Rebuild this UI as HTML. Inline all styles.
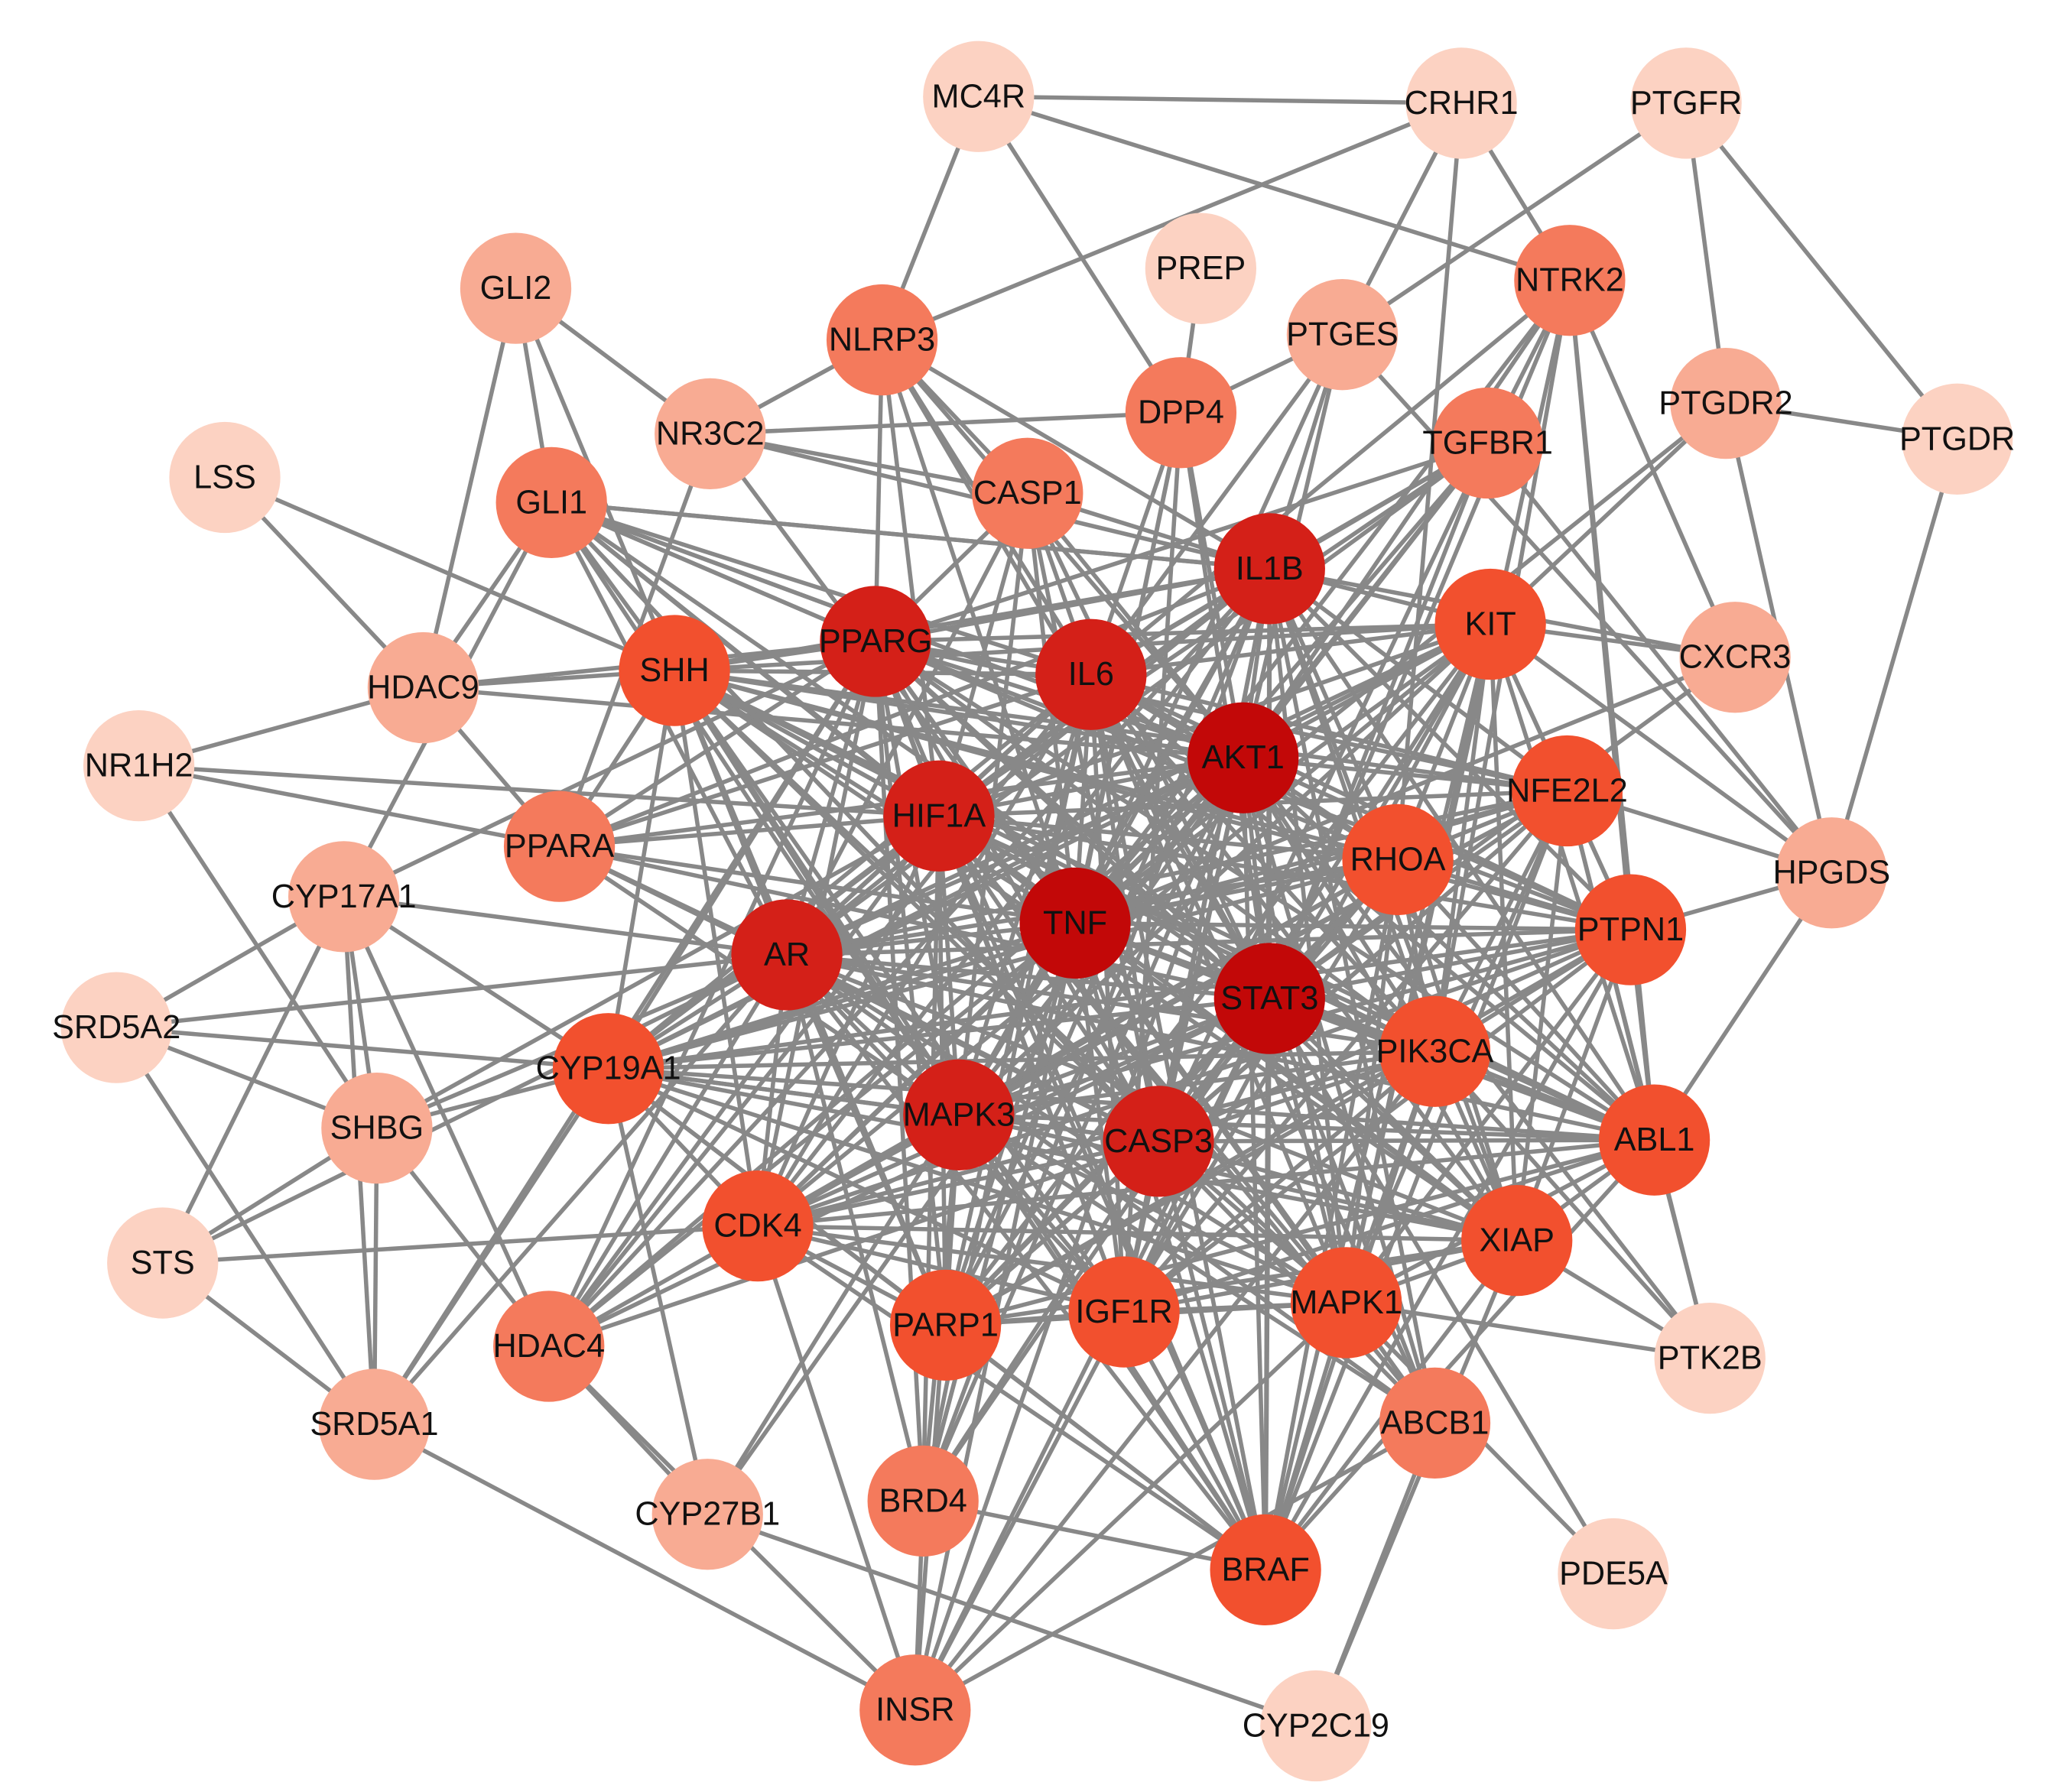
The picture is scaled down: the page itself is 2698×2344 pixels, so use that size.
<!DOCTYPE html>
<html><head><meta charset="utf-8"><style>
html,body{margin:0;padding:0;background:#fff;}
svg{display:block}
text{font-family:"Liberation Sans",Arial,sans-serif;font-size:25px;fill:#111;text-anchor:middle;dominant-baseline:central}
</style></head><body>
<svg id="s" width="2698" height="2344" viewBox="0 0 1560 1355" preserveAspectRatio="none" xmlns="http://www.w3.org/2000/svg"><g id="e"></g><g id="n"></g></svg>
<script>
var C={d:"#c20808",r:"#d42018",o:"#f2502e",m:"#f47a5c",l:"#f8ab93",x:"#fcd2c2"};
var N={
MC4R:[740,73,"x"],CRHR1:[1105,78,"x"],PTGFR:[1275,78,"x"],PREP:[908,203,"x"],GLI2:[390,218,"l"],
NLRP3:[667,257,"m"],PTGES:[1015,253,"l"],NTRK2:[1187,212,"m"],PTGDR2:[1305,305,"l"],PTGDR:[1480,332,"x"],
NR3C2:[537,328,"l"],DPP4:[893,312,"m"],TGFBR1:[1125,335,"m"],LSS:[170,361,"x"],GLI1:[417,380,"m"],
CASP1:[777,373,"m"],IL1B:[960,430,"r"],KIT:[1127,472,"o"],CXCR3:[1312,497,"l"],PPARG:[662,485,"r"],
IL6:[825,510,"r"],SHH:[510,507,"o"],HDAC9:[320,520,"l"],AKT1:[940,573,"d"],NR1H2:[105,579,"x"],
HIF1A:[710,617,"r"],NFE2L2:[1185,598,"o"],RHOA:[1057,650,"o"],HPGDS:[1385,660,"l"],PPARA:[423,640,"m"],
CYP17A1:[260,678,"l"],TNF:[813,698,"d"],PTPN1:[1233,703,"o"],AR:[595,722,"r"],STAT3:[960,755,"d"],
SRD5A2:[88,777,"x"],PIK3CA:[1085,795,"o"],CYP19A1:[460,808,"o"],SHBG:[285,853,"l"],MAPK3:[725,843,"r"],
CASP3:[876,863,"r"],ABL1:[1251,862,"o"],CDK4:[573,927,"o"],XIAP:[1147,938,"o"],STS:[123,955,"x"],
MAPK1:[1018,985,"o"],IGF1R:[850,992,"o"],PARP1:[715,1002,"o"],HDAC4:[415,1018,"m"],PTK2B:[1293,1027,"x"],
SRD5A1:[283,1077,"l"],ABCB1:[1085,1076,"m"],BRD4:[698,1135,"m"],CYP27B1:[535,1145,"l"],BRAF:[957,1187,"o"],
PDE5A:[1220,1190,"x"],INSR:[692,1293,"m"],CYP2C19:[995,1305,"x"]};
var E="MC4R-CRHR1 MC4R-NTRK2 MC4R-NLRP3 MC4R-DPP4 CRHR1-NTRK2 CRHR1-NLRP3 CRHR1-RHOA CRHR1-PTGES PTGFR-PTGDR2 PTGFR-PTGDR PTGFR-PTGES PTGDR2-PTGDR PTGDR2-HPGDS PTGDR-HPGDS PREP-DPP4 GLI2-GLI1 GLI2-NR3C2 GLI2-HDAC9 GLI2-SHH NR3C2-NLRP3 NR3C2-DPP4 NR3C2-CASP1 NR3C2-PPARA NR3C2-IL1B NR3C2-TNF LSS-HDAC9 LSS-SHH HDAC9-NR1H2 HDAC9-SHH HDAC9-PPARG HDAC9-AKT1 HDAC9-GLI1 NR1H2-SHBG NR1H2-PPARA NR1H2-HIF1A CYP17A1-SRD5A2 CYP17A1-SHBG CYP17A1-STS CYP17A1-HDAC4 CYP17A1-SRD5A1 CYP17A1-AR CYP17A1-CYP19A1 CYP17A1-PPARG CYP17A1-GLI1 SRD5A2-SHBG SRD5A2-SRD5A1 SRD5A2-AR SRD5A2-CYP19A1 SHBG-STS SHBG-SRD5A1 SHBG-AR SHBG-CYP19A1 SHBG-HDAC4 SHBG-HIF1A STS-SRD5A1 STS-AR STS-CDK4 SRD5A1-INSR SRD5A1-AR SRD5A1-CYP19A1 SRD5A1-PPARG CYP27B1-CYP2C19 CYP27B1-TNF CYP27B1-CYP19A1 CYP27B1-HDAC4 CYP27B1-AKT1 INSR-HDAC4 INSR-IGF1R INSR-AKT1 INSR-PIK3CA INSR-MAPK1 INSR-MAPK3 INSR-BRD4 INSR-STAT3 INSR-ABCB1 INSR-CDK4 CYP2C19-ABCB1 CYP2C19-XIAP BRD4-BRAF BRD4-TNF PDE5A-MAPK1 PDE5A-STAT3 PTK2B-MAPK1 PTK2B-ABL1 PTK2B-PIK3CA PTK2B-AKT1 PTK2B-NFE2L2 PTK2B-XIAP HPGDS-NFE2L2 HPGDS-ABL1 HPGDS-PTPN1 HPGDS-TGFBR1 HPGDS-KIT HPGDS-PTGES CXCR3-TNF CXCR3-IL1B CXCR3-KIT CXCR3-STAT3 CXCR3-NTRK2 NTRK2-ABL1 NTRK2-PTPN1 NTRK2-AKT1 NTRK2-IL6 NTRK2-STAT3 NTRK2-TNF NTRK2-MAPK1 NTRK2-PIK3CA NTRK2-TGFBR1 PTGES-AKT1 PTGES-IL1B PTGES-DPP4 PTGES-TNF PTGES-IL6 PTGDR2-KIT PTGDR2-TNF NLRP3-PPARG NLRP3-IL6 NLRP3-CASP1 NLRP3-TNF NLRP3-IL1B NLRP3-AKT1 NLRP3-STAT3 NLRP3-HIF1A DPP4-TNF DPP4-IL6 DPP4-AKT1 DPP4-STAT3 DPP4-INSR DPP4-IGF1R GLI1-SHH GLI1-PPARG GLI1-AKT1 GLI1-IL1B GLI1-TNF GLI1-CASP3 PPARA-SHH PPARA-HDAC9".split(" ");
var core=["AKT1","TNF","STAT3","IL6","IL1B","PPARG","HIF1A","AR","MAPK3","CASP3"];
var others=["KIT","RHOA","PIK3CA","NFE2L2","PTPN1","ABL1","XIAP","MAPK1","IGF1R","PARP1","CDK4","CYP19A1","SHH","BRAF","CASP1","TGFBR1","PPARA","HDAC4","ABCB1","BRD4","GLI1"];
for(var i=0;i<core.length;i++){for(var j=i+1;j<core.length;j++)E.push(core[i]+"-"+core[j]);for(var k=0;k<others.length;k++)E.push(core[i]+"-"+others[k]);}
var oo=others.slice(0,14);
for(var i=0;i<oo.length;i++)for(var j=i+1;j<oo.length;j++)E.push(oo[i]+"-"+oo[j]);
var ns="http://www.w3.org/2000/svg",ge=document.getElementById("e"),gn=document.getElementById("n");
E.forEach(function(p){var a=p.split("-"),A=N[a[0]],B=N[a[1]];if(!A||!B)return;var l=document.createElementNS(ns,"line");
l.setAttribute("x1",A[0]);l.setAttribute("y1",A[1]);l.setAttribute("x2",B[0]);l.setAttribute("y2",B[1]);
l.setAttribute("stroke","#888");l.setAttribute("stroke-width","3.2");ge.appendChild(l);});
for(var k in N){var v=N[k];var c=document.createElementNS(ns,"circle");c.setAttribute("cx",v[0]);c.setAttribute("cy",v[1]);c.setAttribute("r",42);c.setAttribute("fill",C[v[2]]);gn.appendChild(c);}
for(var k in N){var v=N[k];var t=document.createElementNS(ns,"text");t.setAttribute("x",v[0]);t.setAttribute("y",v[1]);t.textContent=k;gn.appendChild(t);}
</script>
</body></html>
